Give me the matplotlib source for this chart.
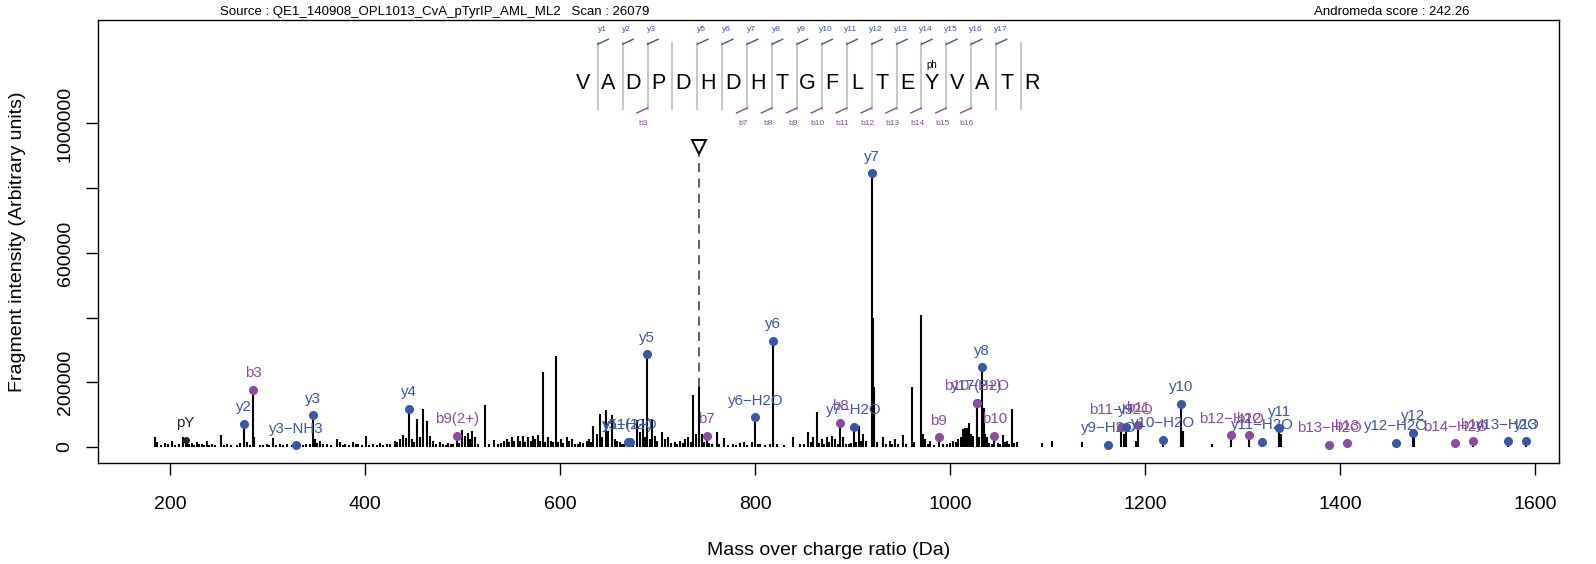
import matplotlib
matplotlib.use("Agg")
import matplotlib.pyplot as plt

plt.rcParams['font.family'] = ['Liberation Sans', 'DejaVu Sans']

# ---- data ----
source_txt = "Source : QE1_140908_OPL1013_CvA_pTyrIP_AML_ML2   Scan : 26079"
score_txt = "Andromeda score : 242.26"

# unannotated peaks: m/z and intensity (thousands)
peak_mz = [184.6, 186.3, 190.5, 194.8, 198.3, 201.7, 205, 209, 213.6, 217, 219.5, 222.2, 225, 227.3, 230,
           232.4, 235, 237.6, 240, 242.7, 246, 252, 255, 258.8, 263, 268.3, 271.8, 278.6, 282, 286.5, 292.3,
           295, 299.1, 302, 305.3, 309, 312.8, 316, 319.6, 324.8, 333.3, 336, 339.5, 344, 348.7, 351, 353.8,
           357, 360.7, 365, 370.9, 374.3, 377, 379.5, 384, 388, 390.5, 393.1, 397, 400.7, 404, 408.5, 412,
           415.4, 419, 422.2, 426, 430.7, 433, 436, 439.3, 442, 447.8, 450, 453, 456, 459.8, 463.2, 466.6,
           470, 473, 476.9, 480, 483, 485.4, 488, 490.6, 496, 499.1, 502.5, 505.9, 508, 510, 512.8, 516,
           522.7, 527, 532.3, 536, 540, 543, 545.3, 548, 550.4, 553, 556.6, 559, 561.7, 564, 567.5, 570,
           571.9, 574, 577.7, 580, 582.9, 585, 588, 591, 593, 595.9, 598, 600.7, 603, 606.8, 609, 611.9,
           615, 618, 620.5, 624, 627.3, 630, 632, 634.2, 637.6, 641.3, 643.5, 647.2, 649.5, 653.5, 656,
           658.1, 661.5, 664, 666, 675.2, 678.6, 682, 685.4, 687, 692, 694, 697.4, 700, 704.2, 707.7, 711.1,
           714, 717.9, 720, 723, 726, 728.2, 731.6, 734, 736, 739.1, 742.2, 745.3, 748, 753, 756, 760.7,
           763, 768.2, 772, 777.7, 781, 784.6, 788.7, 792, 796.6, 803, 805.1, 810, 815, 822.2, 830, 839.3,
           846.1, 850, 854.7, 857, 859.8, 863.9, 866, 868.4, 871, 873.5, 876, 878.6, 882, 885, 890.6, 893,
           896, 898, 904, 907, 909, 911.1, 914, 920.9, 922.3, 925, 930.9, 934, 938.4, 941, 943.6, 947,
           951.4, 955, 961.3, 963.5, 970.2, 972, 974.3, 977, 979.5, 984, 993.1, 997, 1000, 1003.4, 1006,
           1008.5, 1011, 1013.6, 1015.4, 1017.1, 1019.8, 1021.5, 1023.9, 1030, 1034.5, 1036, 1037.6, 1040,
           1043, 1049, 1051, 1054, 1056, 1058.1, 1061, 1063.6, 1066, 1068.4, 1094, 1104.5, 1135.8, 1178,
           1191, 1238.5, 1268.4, 1339, 1476]
peak_int = [31, 15, 6, 12, 10, 18, 6, 8, 31, 20, 10, 12, 7, 15, 8,
            10, 6, 20, 7, 8, 5, 38, 6, 8, 5, 6, 12, 15, 6, 31, 6,
            5, 10, 6, 29, 5, 8, 6, 10, 6, 10, 6, 8, 10, 26, 12, 18,
            8, 10, 6, 26, 15, 7, 10, 6, 15, 8, 10, 7, 33, 6, 10, 7,
            12, 6, 10, 8, 20, 14, 25, 38, 28, 25, 15, 88, 30, 118, 80, 35,
            20, 10, 15, 8, 6, 12, 8, 10, 12, 52, 35, 42, 25, 50, 30, 10,
            129, 8, 22, 10, 12, 18, 25, 15, 30, 20, 33, 18, 33, 15, 30, 20,
            35, 25, 38, 20, 231, 15, 30, 20, 15, 281, 15, 25, 12, 30, 18, 25,
            10, 8, 15, 12, 20, 25, 15, 65, 40, 103, 30, 114, 50, 99, 25,
            20, 15, 10, 8, 20, 83, 45, 88, 30, 25, 88, 35, 20, 47, 25, 30,
            12, 15, 10, 20, 12, 25, 30, 15, 160, 40, 186, 40, 15, 12, 10, 45,
            10, 28, 6, 10, 6, 12, 15, 6, 15, 8, 10, 6, 8, 10, 5, 30,
            10, 8, 45, 15, 30, 108, 12, 25, 10, 30, 15, 35, 25, 10, 30, 10,
            8, 12, 15, 65, 20, 40, 20, 400, 186, 15, 30, 8, 20, 10, 25, 8,
            37, 8, 184, 15, 409, 40, 25, 10, 20, 6, 10, 8, 12, 20, 15,
            25, 30, 55, 58, 60, 73, 40, 35, 30, 120, 40, 30, 12,
            8, 12, 10, 37, 15, 20, 10, 118, 12, 15, 13, 18, 15, 40,
            20, 50, 10, 40, 30]

# annotated fragment ions
ion_mz = [216.0, 275.9, 285.4, 329.2, 346.3, 445.5, 494.7, 669.4, 671.8, 689.2, 750.4, 800.3, 818.5,
          887.2, 901.5, 919.7, 988.7, 1027.4, 1027.4, 1032.8, 1045.4, 1162.4, 1175.0, 1180.5, 1193.1,
          1218.8, 1236.9, 1288.2, 1306.3, 1320.0, 1337.8, 1389.0, 1406.9, 1457.1, 1475.2, 1518.3,
          1536.1, 1572.3, 1590.4]
ion_int = [21.6, 71, 176, 5, 98, 117.5, 35, 15, 16, 286.5, 35, 91.8, 327.6,
           75, 62.8, 846, 30, 137, 137, 246, 35, 6, 63, 63, 68,
           21.6, 133, 36, 36, 15.5, 57.8, 6, 13, 13, 44, 11,
           17.6, 17.6, 17.6]
ion_label = ['pY', 'y2', 'b3', 'y3\u2212NH3', 'y3', 'y4', 'b9(2+)', 'y11(2+)', 'y5\u2212H2O', 'y5', 'b7',
             'y6\u2212H2O', 'y6', 'b8', 'y7\u2212H2O', 'y7', 'b9', 'y17(2+)', 'b10\u2212H2O', 'y8', 'b10',
             'y9\u2212H2O', 'b11\u2212H2O', 'y9', 'b11', 'y10\u2212H2O', 'y10', 'b12\u2212H2O', 'b12',
             'y11\u2212H2O', 'y11', 'b13\u2212H2O', 'b13', 'y12\u2212H2O', 'y12', 'b14\u2212H2O', 'b14',
             'y13\u2212H2O', 'y13']
ion_type = ['i', 'y', 'b', 'y', 'y', 'y', 'b', 'y', 'y', 'y', 'b', 'y', 'y', 'b', 'y', 'y', 'b', 'y', 'b',
            'y', 'b', 'y', 'b', 'y', 'b', 'y', 'y', 'b', 'b', 'y', 'y', 'b', 'b', 'y', 'y', 'b', 'b', 'y', 'y']

precursor_mz = 742.2
precursor_int = 186

sequence = "VADPDHDHTGFLTEYVATR"
phospho_pos = 15
y_cuts = [1, 2, 3, 5, 6, 7, 8, 9, 10, 11, 12, 13, 14, 15, 16, 17]
b_cuts = [3, 7, 8, 9, 10, 11, 12, 13, 14, 15, 16]

colors = {'y': '#3a56a8', 'b': '#8b4c9f', 'i': '#222222'}

# ---- figure ----
fig = plt.figure(figsize=(15.96, 5.64), dpi=100)
ax = fig.add_axes([98 / 1596, 101 / 564, 1461 / 1596, 443 / 564])

ax.vlines(peak_mz, 0, [v * 1000 for v in peak_int], color='black', lw=1.5)
ax.vlines(ion_mz, 0, [v * 1000 for v in ion_int], color='black', lw=1.5)

for x, y, lab, t in zip(ion_mz, ion_int, ion_label, ion_type):
    c = colors[t]
    ax.plot(x, y * 1000, 'o', color=c, ms=4 if t == 'i' else 5.5, zorder=3)
    ax.annotate(lab, (x, y * 1000), xytext=(0, 12), textcoords='offset points',
                ha='center', va='center', color=c, fontsize=10.8)

# precursor marker
ax.vlines(precursor_mz, precursor_int * 1000, 905000, color='#555555', lw=1.3,
          linestyles=(0, (5, 3.5)))
ax.plot(precursor_mz, 928000, marker='v', mfc='white', mec='black', ms=10, mew=1.4, zorder=4)

# peptide sequence with fragment ladder
x0, step = 623.9, 25.54
sep_off = 14.8
for i, aa in enumerate(sequence):
    ax.text(x0 + i * step, 1125000, aa, ha='center', va='center', fontsize=15.5)
    if i + 1 == phospho_pos:
        ax.text(x0 + i * step, 1181000, 'ph', ha='center', va='center', fontsize=7)
for i in range(1, len(sequence)):
    sx = x0 + (i - 1) * step + sep_off
    ax.plot([sx, sx], [1044800, 1248800], color='#c8c8c8', lw=1.5)
    if i in y_cuts:
        ax.plot([sx, sx + 10.9], [1245000, 1260500], color=colors['y'], lw=1)
        ax.text(sx + 4.4, 1292000, 'y%d' % i, ha='center', va='center', fontsize=6, color=colors['y'])
    if i in b_cuts:
        ax.plot([sx, sx - 10.9], [1048000, 1032500], color=colors['b'], lw=1)
        ax.text(sx - 4.4, 1001500, 'b%d' % i, ha='center', va='center', fontsize=6, color=colors['b'])

ax.set_xlim(126.2, 1624.6)
ax.set_ylim(-49500, 1319900)
ax.set_xticks([200, 400, 600, 800, 1000, 1200, 1400, 1600])
yt = [0, 200000, 400000, 600000, 800000, 1000000]
ax.set_yticks(yt)
ax.set_yticklabels(['0', '200000', '', '600000', '', '1000000'], rotation=90, va='center')
ax.tick_params(length=8.6, width=1, labelsize=14)
ax.tick_params(axis='x', pad=15)
ax.tick_params(axis='y', pad=9)
for s in ax.spines.values():
    s.set_linewidth(1.0)

ax.set_xlabel('Mass over charge ratio (Da)', fontsize=14, labelpad=21)
ax.set_ylabel('Fragment intensity (Arbitrary units)', fontsize=14, labelpad=22)

fig.text(435 / 1596, 1 - 12 / 564, source_txt, ha='center', va='center', fontsize=9.5)
fig.text(1392 / 1596, 1 - 12 / 564, score_txt, ha='center', va='center', fontsize=9.5)

fig.savefig('out.png', dpi=100)
